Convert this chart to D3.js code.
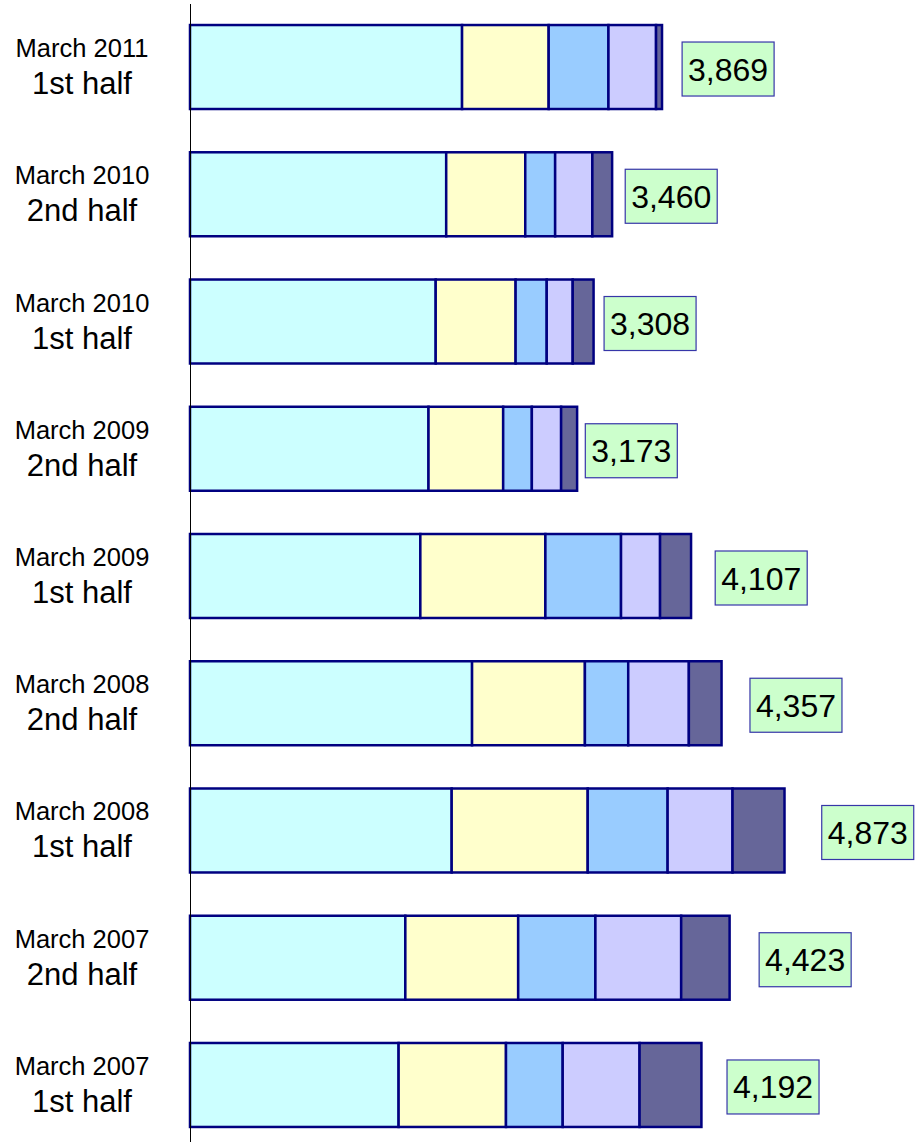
<!DOCTYPE html>
<html>
<head>
<meta charset="utf-8">
<script src="https://cdn.jsdelivr.net/npm/d3@7"></script>
<style>
  html, body { margin: 0; padding: 0; background: #fff; }
  svg { display: block; font-family: "Liberation Sans", Arial, sans-serif; }
</style>
</head>
<body>
<svg id="chart" width="921" height="1142"></svg>
<script>
// Periods, top to bottom
const periodMonth = ["March 2011", "March 2010", "March 2010", "March 2009", "March 2009",
                     "March 2008", "March 2008", "March 2007", "March 2007"];
const periodHalf  = ["1st half", "2nd half", "1st half", "2nd half", "1st half",
                     "2nd half", "1st half", "2nd half", "1st half"];

// Stacked components for each period (left to right)
const seriesA = [2230, 2100, 2014, 1955, 1888, 2312, 2145, 1765, 1710];
const seriesB = [ 710,  648,  655,  612, 1025,  925, 1115,  925,  880];
const seriesC = [ 490,  245,  255,  235,  620,  355,  655,  633,  465];
const seriesD = [ 390,  305,  213,  240,  320,  497,  532,  703,  630];
const seriesE = [  49,  162,  171,  131,  254,  268,  426,  397,  507];

// Totals shown in the boxes
const totals = [3869, 3460, 3308, 3173, 4107, 4357, 4873, 4423, 4192];

const seriesColors = ["#CCFFFF", "#FFFFCC", "#99CCFF", "#CCCCFF", "#666699"];

const svg = d3.select("#chart");
const width = 921, height = 1142;

const rows = periodMonth.map((m, i) => ({
  key: i,
  month: m,
  half: periodHalf[i],
  a: seriesA[i], b: seriesB[i], c: seriesC[i], d: seriesD[i], e: seriesE[i],
  total: totals[i]
}));

const x = d3.scaleLinear().domain([0, 6000]).range([190, 922]);
const y = d3.scaleBand()
  .domain(rows.map(r => r.key))
  .range([3.4, 1148.6])
  .paddingInner(0.34)
  .paddingOuter(0.17);

const stack = d3.stack().keys(["a", "b", "c", "d", "e"]);
const layers = stack(rows);

// Stacked bars
const g = svg.append("g");
layers.forEach((layer, li) => {
  g.selectAll(null)
    .data(layer)
    .join("rect")
    .attr("x", d => x(d[0]))
    .attr("y", d => y(d.data.key))
    .attr("width", d => x(d[1]) - x(d[0]))
    .attr("height", y.bandwidth())
    .attr("fill", seriesColors[li])
    .attr("stroke", "#000080")
    .attr("stroke-width", 2.5);
});

// Vertical axis line
svg.append("line")
  .attr("x1", 190.5).attr("x2", 190.5)
  .attr("y1", 4).attr("y2", height)
  .attr("stroke", "#000")
  .attr("stroke-width", 1);

// Category labels (two lines)
const labels = svg.append("g");
rows.forEach(r => {
  const cy = y(r.key) + y.bandwidth() / 2;
  labels.append("text")
    .attr("x", 82).attr("y", cy - 10)
    .attr("text-anchor", "middle")
    .attr("font-size", 25.5)
    .attr("fill", "#000")
    .text(r.month);
  labels.append("text")
    .attr("x", 82).attr("y", cy + 27)
    .attr("text-anchor", "middle")
    .attr("font-size", 31)
    .attr("fill", "#000")
    .text(r.half);
});

// Total boxes
const fmt = d3.format(",");
const boxW = 92, boxH = 54;
rows.forEach(r => {
  const cx = x(r.total * 1.14);
  const cy = y(r.key) + y.bandwidth() / 2 + 2;
  svg.append("rect")
    .attr("x", cx - boxW / 2)
    .attr("y", cy - boxH / 2)
    .attr("width", boxW)
    .attr("height", boxH)
    .attr("fill", "#CCFFCC")
    .attr("stroke", "#3636A8")
    .attr("stroke-width", 1.2);
  svg.append("text")
    .attr("x", cx)
    .attr("y", cy + 11.5)
    .attr("text-anchor", "middle")
    .attr("font-size", 32)
    .attr("fill", "#000")
    .text(fmt(r.total));
});
</script>
</body>
</html>
